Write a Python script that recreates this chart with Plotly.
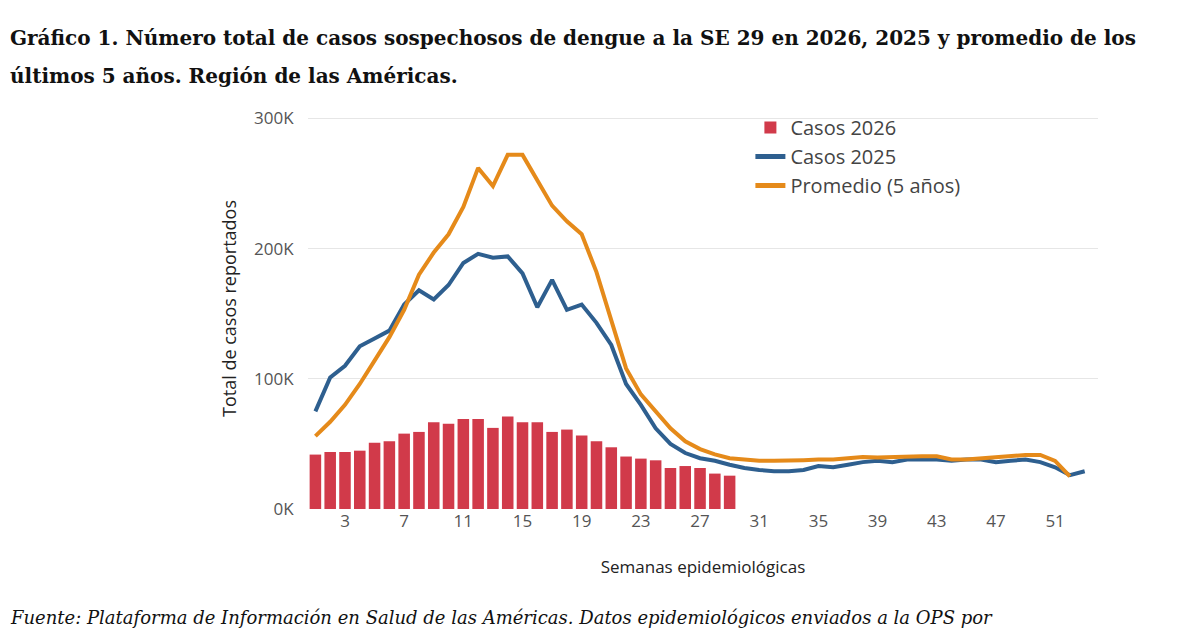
import plotly.graph_objects as go

weeks = list(range(1, 54))
weeks_2026 = list(range(1, 30))

casos_2026 = [41.8, 43.8, 43.8, 44.8, 50.8, 52.0, 57.9, 59.2, 66.7, 65.4, 69.2, 69.2, 62.3, 71.0,
              66.7, 66.7, 59.2, 61.0, 56.4, 52.0, 47.4, 40.3, 38.7, 37.4, 31.5, 33.0, 31.5, 27.2, 25.6]

casos_2025 = [75, 101, 110, 125, 131, 137, 157, 168, 161, 172, 189, 196, 193, 194, 181, 155, 176, 153, 157, 143,
              126, 96, 80, 62, 50, 43, 39, 37, 34, 31.5, 30, 29, 29, 30, 33, 32, 34, 36, 37, 36,
              38, 38, 38, 37, 38, 38, 36, 37, 38, 36, 32, 26, 29]

promedio = [56, 67, 80, 96, 114, 132, 153, 180, 197, 211, 232, 262, 248, 272, 272, 252, 233, 221, 211, 182,
            144, 108, 88, 75, 62, 52, 46, 42, 39, 38, 37, 37, 37, 37.5, 38, 38, 39, 40, 39.5, 40,
            40, 40.5, 40.5, 38, 38, 39, 40, 40.5, 41.5, 41.5, 37, 25, None]

scale = 1000
fig = go.Figure()
fig.add_trace(go.Bar(x=weeks_2026, y=[v * scale for v in casos_2026], name="Casos 2026",
                     marker=dict(color="#d13a4a", line=dict(width=0)), width=0.78))
fig.add_trace(go.Scatter(x=weeks, y=[v * scale for v in casos_2025], name="Casos 2025", mode="lines",
                         line=dict(color="#2e5f8f", width=4)))
fig.add_trace(go.Scatter(x=weeks, y=[None if v is None else v * scale for v in promedio],
                         name="Promedio (5 años)", mode="lines", line=dict(color="#e58a1a", width=4)))

grey = "#555555"
fig.update_layout(
    width=1200, height=630,
    paper_bgcolor="white", plot_bgcolor="white",
    margin=dict(l=300, r=110, t=100, b=129),
    barmode="overlay",
    font=dict(family="Open Sans", color=grey),
    showlegend=True,
    legend=dict(x=0.56, y=1.0, xanchor="left", yanchor="top", font=dict(size=20, color="#444"),
                bgcolor="rgba(0,0,0,0)", itemsizing="constant", tracegroupgap=10),
    xaxis=dict(range=[0.5, 53.9], tickvals=list(range(3, 52, 4)), showgrid=False, zeroline=False,
               tickfont=dict(size=17, color=grey), ticks="", showline=False,
               title=dict(text="Semanas epidemiológicas", font=dict(size=17, color="#222"), standoff=30)),
    yaxis=dict(range=[0, 308000], tickvals=[0, 100000, 200000, 300000],
               ticktext=["0K", "100K", "200K", "300K"], showgrid=True, gridcolor="#e6e6e6",
               zeroline=False, tickfont=dict(size=17, color=grey), ticks="outside", ticklen=10,
               tickcolor="white",
               title=dict(text="Total de casos reportados", font=dict(size=18, color="#222"), standoff=12)),
)

title_x = -300 / 790
fig.add_annotation(text="<b>Gráfico 1. Número total de casos sospechosos de dengue a la SE 29 en 2026, 2025 y promedio de los</b>",
                   xref="paper", yref="paper", x=title_x, y=1.0, xanchor="left", yanchor="bottom",
                   yshift=56, showarrow=False, align="left",
                   font=dict(family="DejaVu Serif", size=20, color="#111"))
fig.add_annotation(text="<b>últimos 5 años. Región de las Américas.</b>",
                   xref="paper", yref="paper", x=title_x, y=1.0, xanchor="left", yanchor="bottom",
                   yshift=18, showarrow=False, align="left",
                   font=dict(family="DejaVu Serif", size=20, color="#111"))
fig.add_annotation(text="<i>Fuente: Plataforma de Información en Salud de las Américas. Datos epidemiológicos enviados a la OPS por</i>",
                   xref="paper", yref="paper", x=title_x, y=0, xanchor="left", yanchor="top",
                   yshift=-96, showarrow=False, align="left",
                   font=dict(family="DejaVu Serif", size=18, color="#111"))

fig.write_html("out.html")
